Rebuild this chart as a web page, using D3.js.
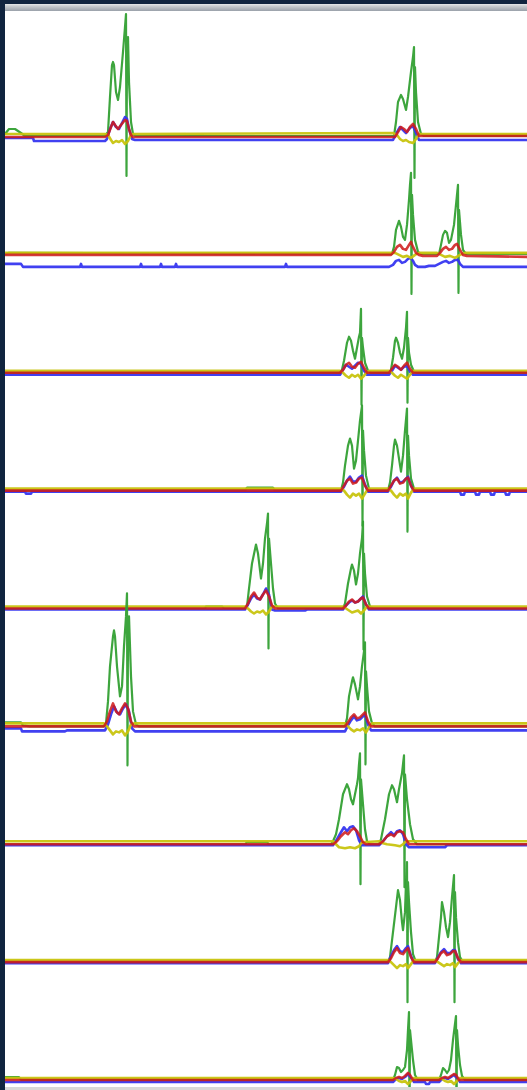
<!DOCTYPE html>
<html><head><meta charset="utf-8">
<script src="https://cdn.jsdelivr.net/npm/d3@7"></script>
<style>html,body{margin:0;padding:0;background:#fff;overflow:hidden}svg{display:block}</style>
</head><body>
<svg id="chart" width="527" height="1090"></svg>
<script>
// ---- data (time units 0..522, amplitude units, positive = up) ----
const rowLabels = ["1","2","3","4","5","6","7","8","9"];
const seriesNames = ["green","blue","yellow","red"];

const greenTraces = [
 [[0,3],[4,8],[10,8],[16,4],[20,1],[100,1],[103,5],[105,40],[107,72],[108,75],[109,72],[111,45],[113,37],[115,50],[118,85],[120,110],[121,123],[121.5,-39],[122,95],[123,100],[124,55],[126,15],[128,3],[131,1],[389,1],[391,15],[393,35],[396,42],[398,38],[401,27],[403,40],[406,65],[408,80],[409,90],[409.5,-41],[410,70],[411,45],[413,15],[416,3],[419,1],[522,1]],
 [[0,1],[4,2],[387,1],[389,8],[391,25],[394,34],[396,28],[398,18],[400,15],[402,30],[404,55],[405,70],[406,82],[406.5,-39],[407,60],[408,40],[410,15],[413,3],[416,1],[434,1],[436,10],[438,20],[440,24],[442,22],[444,12],[446,15],[449,30],[451,50],[453,70],[453.5,-38],[454,45],[456,20],[458,5],[461,1],[522,1]],
 [[0,0],[335,0],[337,3],[339,12],[342,30],[344,36],[346,32],[348,22],[350,14],[352,25],[354,36],[355,40],[356,64],[356.5,-32],[357,35],[358,25],[360,10],[363,2],[366,0],[384,0],[386,3],[388,15],[390,32],[391,35],[393,30],[395,20],[397,14],[399,25],[400,35],[401,45],[402,61],[402.5,-30],[403,35],[404,20],[406,8],[409,1],[412,0],[522,0]],
 [[0,0],[240,0],[242,3],[268,3],[270,0],[336,0],[338,8],[340,25],[343,45],[345,52],[347,45],[349,22],[351,30],[353,50],[355,70],[357,85],[357.5,-35],[358,60],[359,40],[361,15],[364,2],[367,0],[383,0],[385,8],[387,25],[389,45],[390,51],[392,45],[396,19],[398,35],[400,60],[402,82],[402.5,-41],[403,55],[404,35],[406,12],[409,2],[412,0],[522,0]],
 [[0,0],[200,0],[201,2],[217,2],[219,0],[240,0],[242,2],[244,20],[247,45],[251,64],[253,55],[256,30],[258,45],[260,70],[262,85],[263,95],[263.5,-40],[264,70],[266,45],[268,20],[270,5],[273,0],[338,0],[340,5],[343,25],[346,40],[347,44],[349,38],[351,24],[353,35],[355,55],[357,70],[358,87],[358.5,-41],[359,55],[360,35],[362,12],[365,2],[368,0],[522,0]],
 [[0,4],[16,4],[18,1],[25,0],[99,0],[101,3],[103,25],[105,60],[108,90],[109,96],[110,90],[112,60],[115,30],[117,40],[119,80],[121,110],[122,133],[122.5,-39],[123,100],[124,110],[126,50],[128,15],[131,2],[134,0],[340,0],[342,8],[344,30],[347,45],[348,49],[350,42],[353,27],[355,40],[357,60],[359,75],[360,84],[360.5,-38],[361,55],[362,40],[364,15],[367,3],[370,0],[522,0]],
 [[0,0],[240,0],[242,2],[262,2],[264,0],[326,0],[328,3],[331,10],[334,25],[338,50],[342,60],[344,55],[346,45],[348,40],[350,50],[352,60],[353,66],[354,80],[355,91],[355.5,-40],[356,65],[358,40],[360,15],[362,3],[365,0],[374,0],[376,5],[380,25],[384,50],[387,59],[389,55],[392,42],[394,55],[397,71],[399,89],[399.5,-43],[400,70],[402,45],[405,20],[408,5],[412,0],[522,0]],
 [[0,0],[383,0],[385,5],[388,30],[391,55],[393,72],[395,62],[397,40],[398,32],[400,50],[401,80],[402,100],[402.5,-40],[403,80],[404,60],[406,30],[408,8],[411,0],[430,0],[432,5],[434,25],[436,45],[437,60],[439,50],[441,35],[443,25],[445,40],[447,65],[449,87],[449.5,-40],[450,70],[451,45],[453,20],[455,5],[458,0],[522,0]],
 [[0,3],[14,3],[16,0],[388,0],[390,5],[392,13],[394,12],[396,8],[398,10],[400,13],[402,30],[403,50],[404,68],[404.5,-40],[405,50],[406,40],[408,20],[410,5],[413,0],[434,0],[436,5],[438,12],[440,10],[442,7],[444,10],[446,20],[448,40],[451,64],[451.5,-40],[452,50],[453,35],[455,15],[457,4],[460,0],[522,0]]
];

const blueTraces = [
 [[0,-1],[28,-1],[29,-4],[100,-4],[102,-2],[105,8],[108,15],[111,10],[114,8],[117,14],[120,20],[122,18],[124,8],[127,-2],[130,-3],[388,-3],[391,3],[395,10],[398,7],[401,4],[405,9],[408,11],[411,4],[414,-3],[522,-3]],
 [[0,-9],[16,-9],[18,-12],[75,-12],[76,-9],[77,-12],[135,-12],[136,-9],[137,-12],[155,-12],[156,-9],[157,-12],[170,-12],[171,-9],[172,-12],[280,-12],[281,-9],[282,-12],[384,-12],[388,-10],[391,-6],[394,-5],[397,-8],[400,-7],[403,-4],[406,-3],[408,-6],[410,-10],[413,-12],[420,-12],[424,-11],[430,-11],[434,-9],[438,-7],[441,-6],[444,-8],[447,-7],[450,-5],[453,-5],[455,-9],[458,-12],[522,-12]],
 [[0,-2],[335,-2],[338,3],[341,8],[344,6],[347,4],[350,7],[353,10],[356,9],[359,2],[362,-2],[384,-2],[387,2],[390,7],[393,5],[396,3],[399,6],[402,7],[405,1],[408,-2],[522,-2]],
 [[0,-1],[20,-1],[21,-3],[26,-3],[27,-1],[336,-1],[339,4],[342,10],[345,14],[348,9],[351,9],[354,13],[357,15],[360,6],[363,-1],[383,-1],[386,4],[389,10],[392,13],[395,8],[398,9],[401,12],[403,14],[406,5],[409,-1],[455,-1],[456,-4],[459,-4],[460,-1],[470,-1],[471,-4],[474,-4],[475,-1],[485,-1],[486,-4],[489,-4],[490,-1],[500,-1],[501,-4],[504,-4],[505,-1],[522,-1]],
 [[0,-1],[240,-1],[243,4],[246,10],[249,14],[252,10],[255,9],[258,14],[261,20],[264,14],[267,-1],[270,-2],[300,-2],[302,-1],[338,-1],[341,3],[344,6],[347,8],[350,6],[353,7],[356,10],[358,12],[361,4],[364,-1],[522,-1]],
 [[0,-2],[16,-2],[17,-5],[60,-5],[62,-4],[100,-4],[103,2],[106,12],[109,20],[112,14],[115,12],[118,18],[121,22],[124,15],[127,-2],[130,-5],[340,-5],[343,1],[346,6],[349,10],[352,6],[355,7],[358,10],[360,12],[363,2],[366,-4],[522,-4]],
 [[0,-1],[328,-1],[332,5],[336,12],[339,17],[342,13],[345,17],[348,18],[351,14],[354,4],[357,-1],[374,-1],[378,3],[382,8],[386,12],[389,9],[392,13],[395,14],[398,10],[401,0],[404,-3],[440,-3],[442,-1],[522,-1]],
 [[0,-1],[383,-1],[386,6],[389,12],[392,16],[395,11],[398,10],[401,14],[403,16],[406,6],[409,-1],[430,-1],[433,5],[436,10],[439,13],[442,9],[445,9],[448,12],[450,12],[453,3],[456,-1],[522,-1]],
 [[0,-2],[388,-2],[391,1],[394,2],[397,1],[400,3],[403,6],[406,2],[409,-2],[420,-2],[421,-4],[424,-4],[425,-2],[434,-2],[437,1],[440,2],[443,1],[446,3],[449,5],[452,2],[455,-2],[522,-2]]
];

const redTraces = [
 [[0,0],[100,0],[103,2],[106,10],[108,15],[110,12],[113,8],[116,12],[120,17],[122,16],[124,8],[126,2],[128,0],[390,0],[393,5],[396,10],[399,8],[402,5],[405,10],[408,13],[411,8],[414,1],[417,1],[522,1]],
 [[0,0],[386,0],[389,3],[392,8],[395,10],[398,6],[401,5],[404,10],[406,13],[408,8],[411,2],[414,0],[418,-1],[432,-1],[435,2],[438,6],[441,8],[444,5],[447,6],[450,10],[452,11],[455,5],[458,0],[462,-1],[522,-2]],
 [[0,0],[335,0],[338,3],[341,8],[344,10],[347,6],[350,5],[353,9],[356,11],[359,5],[362,0],[384,0],[387,4],[390,8],[393,6],[396,3],[399,7],[402,10],[405,4],[408,0],[522,0]],
 [[0,0],[336,0],[339,5],[342,10],[345,12],[348,7],[351,8],[354,12],[357,13],[360,5],[363,0],[383,0],[386,5],[389,10],[392,12],[395,7],[398,8],[401,12],[403,13],[406,5],[409,0],[522,0]],
 [[0,0],[240,0],[243,5],[246,12],[249,16],[252,11],[255,9],[258,14],[261,18],[264,12],[267,3],[270,0],[338,0],[341,3],[344,7],[347,9],[350,6],[353,7],[356,10],[358,11],[361,4],[364,0],[522,0]],
 [[0,0],[99,0],[102,5],[105,15],[108,23],[111,15],[114,12],[117,18],[120,23],[123,18],[126,5],[129,0],[340,0],[343,4],[346,9],[349,12],[352,8],[355,9],[358,12],[360,14],[363,5],[366,0],[522,0]],
 [[0,0],[328,0],[332,3],[336,8],[340,12],[343,10],[346,14],[349,16],[352,13],[355,8],[358,2],[361,0],[374,0],[378,3],[382,8],[386,10],[389,8],[392,12],[395,13],[398,12],[401,5],[404,0],[522,0]],
 [[0,0],[383,0],[386,4],[389,10],[392,14],[395,9],[398,8],[401,12],[403,14],[406,5],[409,0],[430,0],[433,4],[436,9],[439,11],[442,7],[445,8],[448,11],[450,11],[453,4],[456,0],[522,0]],
 [[0,0],[388,0],[391,2],[394,3],[397,2],[400,4],[403,7],[405,5],[408,0],[434,0],[437,2],[440,3],[443,2],[446,4],[449,6],[451,5],[454,0],[522,0]]
];

const yellowTraces = [
 [[0,3],[100,3],[103,2],[106,-3],[108,-6],[111,-4],[114,-5],[117,-3],[120,-7],[123,-4],[126,2],[128,3],[388,4],[392,2],[395,-2],[398,-4],[401,-3],[404,-5],[408,-6],[411,-2],[414,3],[522,3]],
 [[0,2],[386,2],[390,2],[394,0],[398,-2],[402,-1],[406,-3],[410,0],[414,2],[432,2],[436,0],[440,-2],[445,-1],[450,-3],[455,0],[460,2],[522,2]],
 [[0,2],[335,2],[338,0],[341,-3],[344,-5],[347,-2],[350,-4],[353,-2],[356,-6],[359,-3],[362,1],[365,2],[384,2],[387,0],[390,-3],[393,-5],[396,-2],[399,-4],[402,-6],[405,-2],[408,2],[522,2]],
 [[0,2],[336,2],[339,0],[342,-4],[345,-7],[348,-3],[351,-5],[354,-3],[357,-8],[360,-3],[363,2],[383,2],[386,0],[389,-4],[392,-7],[395,-3],[398,-5],[401,-3],[403,-8],[406,-2],[409,2],[522,2]],
 [[0,2],[240,2],[243,0],[246,-3],[249,-5],[252,-3],[255,-4],[258,-2],[261,-6],[264,-3],[267,2],[338,2],[341,0],[344,-2],[347,-4],[350,-3],[353,-2],[356,-5],[359,-2],[362,2],[522,2]],
 [[0,3],[99,3],[102,0],[105,-4],[108,-8],[111,-5],[114,-6],[117,-4],[120,-9],[123,-5],[126,2],[129,3],[340,3],[343,0],[346,-3],[349,-5],[352,-3],[355,-4],[358,-2],[361,-6],[364,-1],[367,3],[522,3]],
 [[0,3],[328,3],[331,0],[334,-3],[340,-4],[345,-3],[350,-4],[354,-2],[357,2],[374,3],[378,1],[382,0],[390,-1],[395,-2],[398,0],[401,3],[522,3]],
 [[0,2],[383,2],[386,0],[389,-3],[392,-6],[395,-3],[398,-4],[401,-2],[403,-6],[406,-2],[409,2],[430,2],[433,0],[436,-2],[439,-4],[442,-2],[445,-3],[448,-1],[450,-5],[453,-1],[456,2],[522,2]],
 [[0,2],[388,2],[391,1],[394,-1],[397,-2],[400,-1],[403,-4],[406,-1],[409,2],[434,2],[437,1],[440,-1],[443,-2],[446,-1],[449,-4],[452,-1],[455,2],[522,2]]
];

// ---- drawing ----
const W = 527, H = 1090;
const svg = d3.select("#chart");
const colors = {green:"#33a033", blue:"#3535f0", yellow:"#c8c410", red:"#cf1b1b"};
const widths = {green:2.2, blue:2.6, yellow:2.6, red:2.6};
const traces = {green:greenTraces, blue:blueTraces, yellow:yellowTraces, red:redTraces};

const x = d3.scaleLinear().domain([0, 522]).range([5, 527]);
const rowY = d3.scaleLinear().domain([0, rowLabels.length - 1]).range([137, 1080]);
const amp = d3.scaleLinear().domain([0, 100]).range([0, -100]);

svg.append("rect").attr("width", W).attr("height", H).attr("fill", "#fff");

const defs = svg.append("defs");
defs.append("clipPath").attr("id", "plotClip").append("rect")
  .attr("x", 5).attr("y", 11).attr("width", W - 5).attr("height", 1076);
defs.append("filter").attr("id", "soft").attr("x", "-5%").attr("y", "-5%").attr("width", "110%").attr("height", "110%")
  .append("feGaussianBlur").attr("stdDeviation", 0.45);
const grad = defs.append("linearGradient").attr("id", "topGrad")
  .attr("x1", 0).attr("y1", 0).attr("x2", 0).attr("y2", 1);
grad.append("stop").attr("offset", "0%").attr("stop-color", "#e6e8ea");
grad.append("stop").attr("offset", "30%").attr("stop-color", "#c8ccd0");
grad.append("stop").attr("offset", "100%").attr("stop-color", "#9aa1aa");

const plot = svg.append("g").attr("clip-path", "url(#plotClip)");
const inner = plot.append("g").attr("filter", "url(#soft)");

rowLabels.forEach((lab, i) => {
  const g = inner.append("g").attr("class", "row row-" + lab);
  const line = d3.line()
    .x(d => x(d[0]))
    .y(d => rowY(i) + amp(d[1]));
  seriesNames.forEach(s => {
    g.append("path")
      .datum(traces[s][i])
      .attr("d", line)
      .attr("fill", "none")
      .attr("stroke", colors[s])
      .attr("stroke-width", widths[s])
      .attr("stroke-linejoin", "round")
      .attr("stroke-opacity", s === "red" ? 0.88 : 0.95);
  });
});

// window chrome
svg.append("rect").attr("x", 0).attr("y", 0).attr("width", W).attr("height", 4).attr("fill", "#10243f");
svg.append("rect").attr("x", 5).attr("y", 4).attr("width", W - 5).attr("height", 7).attr("fill", "url(#topGrad)");
svg.append("rect").attr("x", 0).attr("y", 0).attr("width", 5).attr("height", H).attr("fill", "#10243f");
svg.append("rect").attr("x", 5).attr("y", 1087).attr("width", W - 5).attr("height", 3).attr("fill", "#d8d8d8");
</script>
</body></html>
